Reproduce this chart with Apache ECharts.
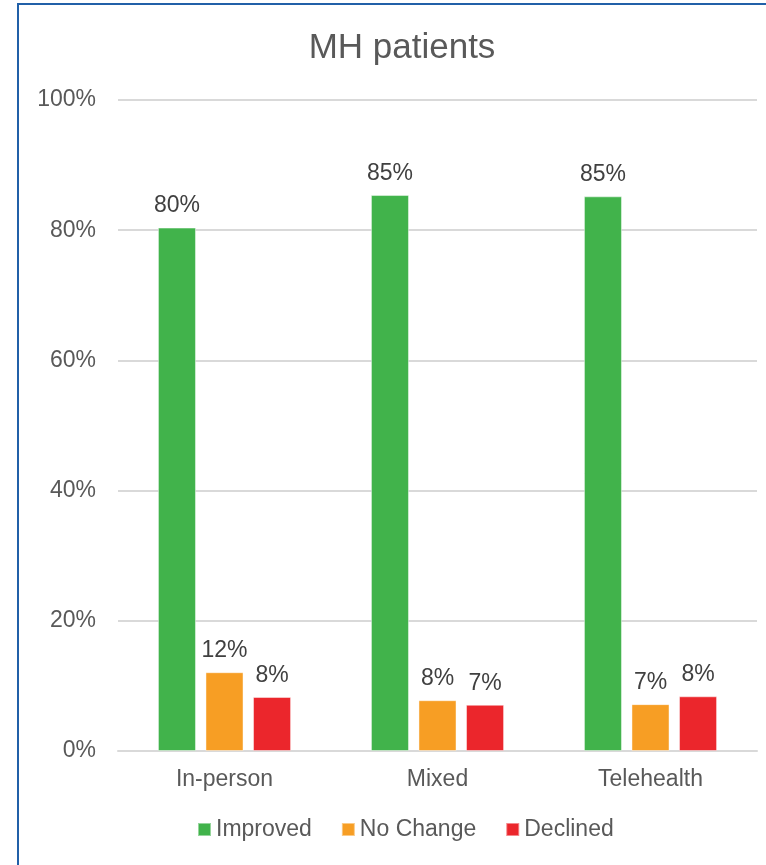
<!DOCTYPE html>
<html>
<head>
<meta charset="utf-8">
<style>
  html, body { margin: 0; padding: 0; background: #ffffff; }
  #chart { width: 766px; height: 865px; }
</style>
<script src="https://cdn.jsdelivr.net/npm/echarts@6/dist/echarts.min.js"></script>
</head>
<body>
<div id="chart"></div>
<script>
// Visit modes and outcome shares (percent of MH patients)
const categories = ['In-person', 'Mixed', 'Telehealth'];
const improved = [80.4, 85.4, 85.2];
const noChange = [12.1, 7.8, 7.2];
const declined = [8.3, 7.1, 8.4];
const yTicks = [0, 20, 40, 60, 80, 100];

const FONT = '"Liberation Sans", Arial, Helvetica, sans-serif';
const textGrey = '#595959';

const chart = echarts.init(document.getElementById('chart'), null, { renderer: 'canvas' });

function barSeries(name, data, color) {
  return {
    name: name,
    type: 'bar',
    data: data,
    barGap: '25%',
    barCategoryGap: '37.5%',
    itemStyle: { color: color, borderColor: 'rgba(255,255,255,0.45)', borderWidth: 1 },
    label: {
      show: true,
      position: 'top',
      distance: 10,
      formatter: p => Math.round(p.value) + '%',
      fontFamily: FONT,
      fontSize: 23,
      color: '#404040'
    },
    emphasis: { disabled: true }
  };
}

chart.setOption({
  animation: false,
  backgroundColor: '#ffffff',
  graphic: [{
    type: 'rect',
    shape: { x: 18, y: 4, width: 820, height: 920 },
    style: { fill: 'none', stroke: '#2160A8', lineWidth: 2 },
    silent: true,
    z: 100
  }],
  title: {
    text: 'MH patients',
    left: 402,
    top: 31,
    padding: 0,
    textAlign: 'center',
    textStyle: { fontFamily: FONT, fontSize: 35, fontWeight: 'normal', color: textGrey }
  },
  legend: {
    left: 197,
    top: 818,
    padding: 0,
    itemWidth: 13,
    itemHeight: 13,
    itemGap: 29,
    icon: 'rect',
    textStyle: { fontFamily: FONT, fontSize: 23, color: textGrey },
    data: ['Improved', 'No Change', 'Declined']
  },
  grid: { left: 118, right: 9, top: 100, bottom: 114, containLabel: false },
  xAxis: {
    type: 'category',
    data: categories,
    axisLine: { show: true, lineStyle: { color: '#D9D9D9', width: 2 } },
    axisTick: { show: false },
    axisLabel: { fontFamily: FONT, fontSize: 23, color: textGrey, margin: 17 }
  },
  yAxis: {
    type: 'value',
    min: yTicks[0],
    max: yTicks[yTicks.length - 1],
    interval: yTicks[1] - yTicks[0],
    axisLine: { show: false },
    axisTick: { show: false },
    splitLine: { lineStyle: { color: '#D9D9D9', width: 2 } },
    axisLabel: {
      fontFamily: FONT, fontSize: 23, color: textGrey, margin: 22,
      padding: [5, 0, 0, 0],
      formatter: '{value}%'
    }
  },
  series: [
    barSeries('Improved', improved, '#41B34B'),
    barSeries('No Change', noChange, '#F79E24'),
    barSeries('Declined', declined, '#EB262C')
  ]
});
</script>
</body>
</html>
